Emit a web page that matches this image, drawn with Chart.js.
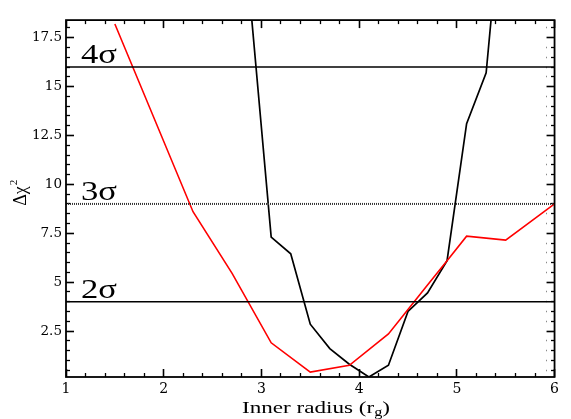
<!DOCTYPE html>
<html>
<head>
<meta charset="utf-8">
<script src="https://cdn.jsdelivr.net/npm/chart.js@4.4.1/dist/chart.umd.min.js"></script>
<style>
  html, body { margin: 0; padding: 0; background: #fff; }
  canvas { display: block; }
</style>
</head>
<body>
<canvas id="chi2" width="571" height="419"></canvas>
<script>
// red curve
const redRadius = [1.5, 2.3, 2.7, 3.1, 3.5, 3.9, 4.3, 4.5, 4.7, 4.9, 5.1, 5.5, 6.0];
const redChi2   = [18.2, 8.6, 5.45, 1.9, 0.4, 0.75, 2.35, 3.6, 4.85, 6.1, 7.35, 7.15, 9.0];

// black curve
const blackRadius = [2.7, 3.1, 3.3, 3.5, 3.7, 3.9, 4.1, 4.3, 4.5, 4.7, 4.9, 5.1, 5.3, 5.5];
const blackChi2   = [29.7, 7.3, 6.45, 2.85, 1.6, 0.8, 0.15, 0.75, 3.5, 4.45, 6.1, 13.1, 15.7, 26.5];

// confidence levels
const sigmaNames  = ['2σ', '3σ', '4σ'];
const sigmaLevels = [4, 9, 16];

const xMin = 1, xMax = 6;
const yMin = 0.15, yMax = 18.4;

const xMinorTicks = [];
for (let i = 5; i <= 30; i++) xMinorTicks.push(i / 5);
const yMinorTicks = [];
for (let i = 1; i <= 36; i++) yMinorTicks.push(i / 2);

const isMajorX = v => Math.abs(v - Math.round(v)) < 1e-6;
const isMajorY = v => Math.abs(v / 2.5 - Math.round(v / 2.5)) < 1e-6;

const toPoints = (xs, ys) => xs.map((x, i) => ({ x: x, y: ys[i] }));

const sigmaSets = sigmaLevels.map((lvl, i) => ({
    label: sigmaNames[i],
    data: [{ x: xMin, y: lvl }, { x: xMax, y: lvl }],
    borderColor: lvl === 9 ? '#333' : '#000',
    borderWidth: lvl === 9 ? 2 : 1.4,
    borderDash: lvl === 9 ? [1, 1] : [],
    pointRadius: 0
}));

// inward ticks: negative tickLength, minor ones cut to half with a dash
// fromAxis = tick line starts at the axis (bottom/right), otherwise it ends there
function tickGrid(isMajor, fromAxis) {
    return {
        display: true,
        drawOnChartArea: false,
        drawTicks: true,
        tickLength: -8,
        tickColor: '#000',
        tickWidth: c => (c.tick && isMajor(c.tick.value)) ? 1.6 : 1.3,
        tickBorderDash: c => (c.tick && isMajor(c.tick.value)) ? [] : [4, 4],
        tickBorderDashOffset: c => (c.tick && isMajor(c.tick.value)) ? 0 : (fromAxis ? 0 : 4)
    };
}

// frame, sigma labels, axis titles
const framePlugin = {
    id: 'frame',
    afterDraw(chart) {
        const ctx = chart.ctx;
        const a = chart.chartArea;
        const ys = chart.scales.y;

        ctx.save();
        ctx.setLineDash([]);
        ctx.strokeStyle = '#000';
        ctx.fillStyle = '#000';
        ctx.lineWidth = 1.8;
        ctx.strokeRect(a.left, a.top, a.right - a.left, a.bottom - a.top);

        // sigma labels
        ctx.font = '28px "Liberation Serif"';
        sigmaLevels.forEach((lvl, i) => {
            const py = ys.getPixelForValue(lvl);
            const w = ctx.measureText(sigmaNames[i]).width;
            ctx.save();
            ctx.translate(81, py - 4);
            ctx.scale(36 / w, 1);
            ctx.fillText(sigmaNames[i], 0, 0);
            ctx.restore();
        });

        // x title with subscript
        const mainFont = '17px "Liberation Serif"';
        const subFont = '12px "Liberation Serif"';
        ctx.font = mainFont;
        const t1 = 'Inner radius (r', t3 = ')';
        const w1 = ctx.measureText(t1).width, w3 = ctx.measureText(t3).width;
        ctx.font = subFont;
        const w2 = ctx.measureText('g').width;
        const sx = 148 / (w1 + w2 + w3);
        ctx.save();
        ctx.translate(316 - 74, 413);
        ctx.scale(sx, 1);
        ctx.font = mainFont;
        ctx.fillText(t1, 0, 0);
        ctx.font = subFont;
        ctx.fillText('g', w1, 3);
        ctx.font = mainFont;
        ctx.fillText(t3, w1 + w2, 0);
        ctx.restore();

        // y title
        ctx.save();
        ctx.translate(26, 194);
        ctx.rotate(-Math.PI / 2);
        ctx.font = '18px "Liberation Serif"';
        const wd = ctx.measureText('Δχ').width;
        ctx.fillText('Δχ', -wd / 2 - 2, 0);
        ctx.font = '11px "Liberation Serif"';
        ctx.fillText('2', wd / 2 - 1, -9);
        ctx.restore();

        ctx.restore();
    }
};

const tickFont = { family: '"DejaVu Serif"', size: 13.5 };

new Chart(document.getElementById('chi2').getContext('2d'), {
    type: 'line',
    data: {
        datasets: [
            ...sigmaSets,
            {
                label: 'red',
                data: toPoints(redRadius, redChi2),
                borderColor: '#ff0000',
                borderWidth: 1.6,
                pointRadius: 0,
                tension: 0
            },
            {
                label: 'black',
                data: toPoints(blackRadius, blackChi2),
                borderColor: '#000',
                borderWidth: 1.7,
                pointRadius: 0,
                tension: 0
            }
        ]
    },
    options: {
        responsive: false,
        animation: false,
        devicePixelRatio: 1,
        layout: { padding: 0 },
        plugins: {
            legend: { display: false },
            tooltip: { enabled: false }
        },
        scales: {
            x: {
                type: 'linear',
                position: 'bottom',
                min: xMin,
                max: xMax,
                grid: tickGrid(isMajorX, true),
                border: { display: false },
                afterFit: s => { s.height = 42; },
                afterBuildTicks: s => { s.ticks = xMinorTicks.map(v => ({ value: v })); },
                ticks: {
                    autoSkip: false,
                    maxRotation: 0,
                    padding: 12,
                    color: '#000',
                    font: { family: '"DejaVu Serif"', size: 14 },
                    callback: v => isMajorX(v) ? String(Math.round(v)) : ''
                }
            },
            xTop: {
                type: 'linear',
                position: 'top',
                min: xMin,
                max: xMax,
                grid: tickGrid(isMajorX, false),
                border: { display: false },
                afterFit: s => { s.height = 12; },
                afterBuildTicks: s => { s.ticks = xMinorTicks.map(v => ({ value: v })); },
                ticks: { display: false, autoSkip: false }
            },
            y: {
                type: 'linear',
                position: 'left',
                min: yMin,
                max: yMax,
                grid: tickGrid(isMajorY, false),
                border: { display: false },
                afterFit: s => { s.width = 66; },
                afterBuildTicks: s => { s.ticks = yMinorTicks.map(v => ({ value: v })); },
                ticks: {
                    autoSkip: false,
                    padding: 12,
                    color: '#000',
                    font: tickFont,
                    callback: v => isMajorY(v) ? String(v) : ''
                }
            },
            yRight: {
                type: 'linear',
                position: 'right',
                min: yMin,
                max: yMax,
                grid: tickGrid(isMajorY, true),
                border: { display: false },
                afterFit: s => { s.width = 7; },
                afterBuildTicks: s => { s.ticks = yMinorTicks.map(v => ({ value: v })); },
                ticks: { display: false, autoSkip: false }
            }
        }
    },
    plugins: [framePlugin]
});
</script>
</body>
</html>
